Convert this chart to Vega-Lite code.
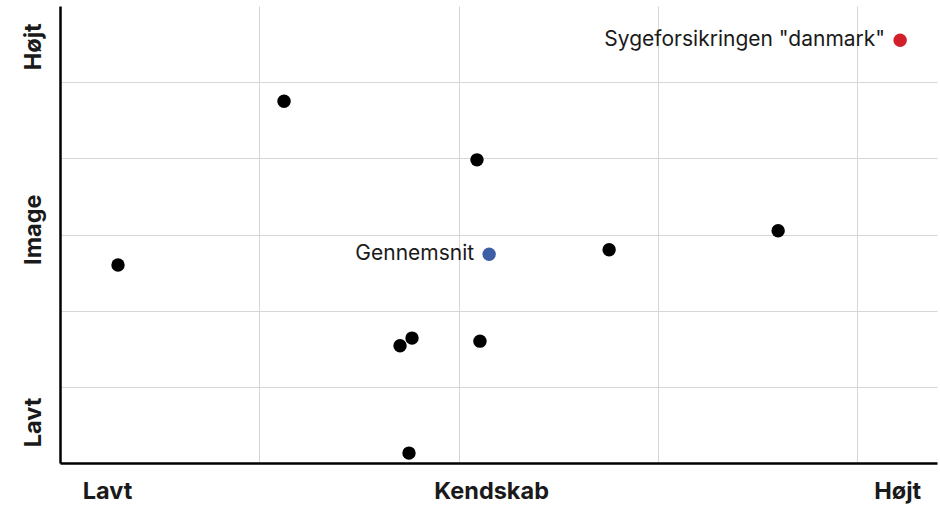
{
  "$schema": "https://vega.github.io/schema/vega-lite/v6.json",
  "autosize": "none",
  "width": 877,
  "height": 457,
  "padding": {"left": 60, "top": 6, "right": 3, "bottom": 43},
  "background": "white",
  "config": {"view": {"stroke": null}, "font": "Inter"},
  "data": {"values": [
    {"kendskab": 0.291, "image": 2.60, "grp": "other", "label": null},
    {"kendskab": 1.124, "image": 4.75, "grp": "other", "label": null},
    {"kendskab": 2.092, "image": 3.98, "grp": "other", "label": null},
    {"kendskab": 2.755, "image": 2.80, "grp": "other", "label": null},
    {"kendskab": 3.603, "image": 3.05, "grp": "other", "label": null},
    {"kendskab": 1.706, "image": 1.54, "grp": "other", "label": null},
    {"kendskab": 1.766, "image": 1.64, "grp": "other", "label": null},
    {"kendskab": 2.107, "image": 1.60, "grp": "other", "label": null},
    {"kendskab": 1.751, "image": 0.13, "grp": "other", "label": null},
    {"kendskab": 2.153, "image": 2.74, "grp": "avg", "label": "Gennemsnit"},
    {"kendskab": 4.215, "image": 5.55, "grp": "focus", "label": "Sygeforsikringen \"danmark\""}
  ]},
  "encoding": {
    "x": {
      "field": "kendskab", "type": "quantitative",
      "scale": {"domain": [0, 4.4], "nice": false, "zero": false},
      "axis": {
        "title": null,
        "values": [0.236, 1, 2, 2.163, 3, 4, 4.2],
        "labelExpr": "datum.value == 0.236 ? 'Lavt' : datum.value == 2.163 ? 'Kendskab' : datum.value == 4.2 ? 'Højt' : ''",
        "labelFlush": false,
        "labelOverlap": false,
        "labelAlign": "center",
        "labelBaseline": "top",
        "labelPadding": 16,
        "labelFont": "Inter",
        "labelFontSize": 23.5,
        "labelFontWeight": "bold",
        "labelColor": "#1a1a1a",
        "ticks": false,
        "tickSize": 0,
        "grid": true,
        "gridColor": "#d6d6d6",
        "gridWidth": 1,
        "gridOpacity": {"condition": {"test": "datum.value == 1 || datum.value == 2 || datum.value == 3 || datum.value == 4", "value": 1}, "value": 0},
        "domainColor": "#000000",
        "domainWidth": 2.5
      }
    },
    "y": {
      "field": "image", "type": "quantitative",
      "scale": {"domain": [0, 6], "nice": false, "zero": false},
      "axis": {
        "title": null,
        "values": [0.54, 1, 2, 3, 3.07, 4, 5, 5.47],
        "labelExpr": "datum.value == 0.54 ? 'Lavt' : datum.value == 3.07 ? 'Image' : datum.value == 5.47 ? 'Højt' : ''",
        "labelOverlap": false,
        "labelFlush": false,
        "labelAngle": 270,
        "labelAlign": "center",
        "labelBaseline": "alphabetic",
        "labelPadding": 20,
        "labelFont": "Inter",
        "labelFontSize": 23.5,
        "labelFontWeight": "bold",
        "labelColor": "#1a1a1a",
        "ticks": false,
        "tickSize": 0,
        "grid": true,
        "gridColor": "#d6d6d6",
        "gridWidth": 1,
        "gridOpacity": {"condition": {"test": "datum.value == 1 || datum.value == 2 || datum.value == 3 || datum.value == 4 || datum.value == 5", "value": 1}, "value": 0},
        "domainColor": "#000000",
        "domainWidth": 2.5
      }
    }
  },
  "layer": [
    {
      "mark": {"type": "point", "filled": true, "size": 180, "opacity": 1},
      "encoding": {
        "color": {
          "field": "grp", "type": "nominal", "legend": null,
          "scale": {"domain": ["other", "avg", "focus"], "range": ["#000000", "#3b5ea6", "#d21f2c"]}
        }
      }
    },
    {
      "transform": [{"filter": "datum.label != null"}],
      "mark": {"type": "text", "align": "right", "baseline": "middle", "dx": -15, "font": "Inter", "fontSize": 21, "color": "#1a1a1a"},
      "encoding": {"text": {"field": "label"}}
    }
  ]
}
